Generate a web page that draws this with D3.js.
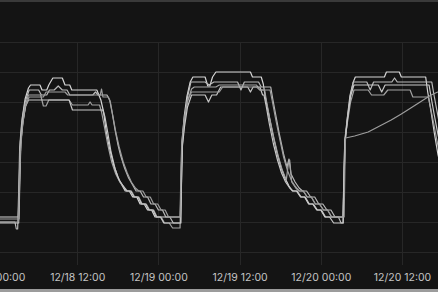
<!DOCTYPE html>
<meta charset="utf-8">
<style>
body { margin: 0; background: #141414; }
svg { display: block; }
.grid line { stroke: #272727; stroke-width: 1; shape-rendering: crispEdges; }
.grid path { display: none; }
.axis path, .axis line { display: none; }
.axis text { fill: #c4c4c4; font-family: Inter, sans-serif; font-size: 10.5px; }
.line { fill: none; stroke-width: 1.2; stroke-linejoin: round; }
</style>
<body>
<script src="https://cdn.jsdelivr.net/npm/d3@7"></script>
<script>

// readings: [hours since 12/18 00:00, temperature]
var sensor1 = [[0,15.5],[3.3,15.5],[3.45,19.5],[3.6,23.0],[3.9,25.5],[4.3,27.3],[4.8,28.4],[5.1,28.7],
  [6.5,28.7],[6.8,28.2],[7.5,28.2],[7.8,28.7],[8.4,29.4],[9.8,29.4],[10.2,28.7],[10.9,28.7],[11.2,28.2],[14.9,28.2],[15.2,27.7],
  [15.5,27.2],[15.9,26.0],[16.3,24.0],[16.8,22.3],[17.4,20.7],[18.0,19.5],[18.6,18.7],[19.1,18.1],[19.7,18.1],[20.2,17.5],[20.8,17.5],[21.3,16.8],[21.9,16.8],[22.4,16.2],[23.0,16.2],[23.5,15.5],[27.25,15.5],
  [27.35,19.0],[27.5,23.0],[27.8,25.5],[28.2,27.5],[28.7,29.0],[29.1,29.5],
  [30.9,29.5],[31.3,28.6],[31.6,28.6],[32.0,29.5],[32.5,30.0],[37.6,30.0],[37.9,29.5],[39.2,29.5],[39.5,28.8],
  [39.8,27.5],[40.3,25.8],[40.9,23.8],[41.5,22.0],[42.1,20.5],[42.7,19.4],[43.3,18.6],[43.8,18.1],[44.4,18.1],[45.0,17.5],[45.6,17.5],[46.2,16.8],[46.8,16.8],[47.4,16.2],[48.0,16.2],[48.6,15.5],[51.3,15.5],
  [51.4,19.5],[51.55,23.2],[51.9,25.3],[52.3,27.6],[52.8,29.0],[53.1,29.5],
  [57.4,29.5],[57.7,30.0],[59.6,30.0],[59.9,29.5],[63.5,29.5],
  [63.8,28.0],[64.3,26.0],[64.8,23.8],[65.3,21.8],[65.8,20.3]];

var sensor2 = [[0,15.0],[2.8,15.0],[3.0,14.3],[3.2,14.3],[3.35,18.0],[3.5,22.5],[3.8,25.0],[4.3,27.0],[4.9,28.2],
  [6.3,28.2],[6.7,27.7],[7.5,27.7],[7.9,28.2],[8.6,28.2],[9.2,28.6],[9.8,28.2],[10.5,28.2],[10.9,27.7],[14.3,27.7],[14.7,28.0],[15.1,27.7],[16.4,27.7],
  [16.8,27.2],[17.2,25.8],[17.6,24.2],[18.0,22.8],[18.4,21.7],[19.0,20.4],[19.6,19.4],[20.2,18.7],[20.7,18.1],[21.3,18.1],[21.8,17.5],[22.4,17.5],[22.9,16.8],[23.5,16.8],[24.0,16.2],[24.6,16.2],[25.1,15.5],[25.7,15.5],[26.2,14.9],[27.3,14.9],
  [27.4,18.5],[27.55,22.8],[27.9,25.3],[28.3,27.5],[28.8,29.0],
  [30.9,29.0],[31.5,28.7],[32.2,29.0],[35.7,29.0],[36.2,28.2],[36.7,29.0],[38.8,29.0],[39.2,28.5],[40.6,28.5],
  [40.9,27.3],[41.4,25.5],[41.9,23.7],[42.5,21.8],[43.0,20.5],[43.3,21.3],[43.6,19.8],[44.2,19.0],[44.8,18.4],[45.3,18.1],[45.9,18.1],[46.5,17.5],[47.1,17.5],[47.7,16.8],[48.3,16.8],[48.9,16.2],[49.5,16.2],[50.1,15.5],[50.6,15.5],[51.0,14.9],[51.3,14.9],
  [51.4,18.5],[51.6,23.0],[51.95,25.5],[52.4,27.7],[52.8,29.0],
  [54.8,29.0],[55.3,28.2],[55.8,29.0],[58.5,29.0],[58.9,29.4],[59.3,29.0],[64.4,29.0],
  [64.7,27.8],[65.2,26.0],[65.7,24.2]];

var sensor3 = [[0,15.3],[3.4,15.3],[3.55,20.0],[3.7,23.2],[4.0,25.0],[4.4,26.8],[4.8,27.7],
  [6.6,27.7],[7.0,26.6],[7.4,26.6],[7.8,27.2],[10.8,27.2],[11.3,26.7],[13.6,26.7],[13.9,27.0],[14.2,26.7],[15.3,26.7],
  [15.6,26.0],[16.0,24.6],[16.5,22.8],[17.1,21.0],[17.7,19.8],[18.3,19.0],[18.9,18.5],[19.4,18.1],[20.0,18.1],[20.5,17.5],[21.1,17.5],[21.6,16.8],[22.2,16.8],[22.7,16.2],[23.3,16.2],[23.8,15.5],[24.4,15.5],[24.9,14.9],[25.6,14.9],[26.1,14.4],[27.2,14.4],
  [27.3,18.0],[27.45,22.5],[27.8,25.0],[28.3,27.0],[28.9,28.3],[29.3,28.5],
  [32.5,28.5],[33.0,28.7],[38.5,28.7],[39.0,28.2],[39.7,28.2],
  [40.0,27.0],[40.5,25.2],[41.1,23.3],[41.7,21.6],[42.3,20.2],[42.9,19.2],[43.2,20.8],[43.4,21.2],[43.7,19.0],[44.3,18.4],[44.8,18.1],[45.4,18.1],[46.0,17.5],[46.6,17.5],[47.2,16.8],[47.8,16.8],[48.4,16.2],[49.0,16.2],[49.6,15.5],[51.3,15.5],
  [51.4,19.0],[51.55,23.0],[51.9,24.8],[52.4,27.0],[52.9,28.2],
  [55.0,28.2],[55.5,27.7],[57.3,27.7],[57.9,28.2],[61.2,28.2],[61.6,27.5],[63.9,27.5],
  [64.2,26.5],[64.7,24.8],[65.2,23.0],[65.7,21.5]];

var sensor4 = [[0,14.9],[3.35,14.9],[3.5,19.0],[3.65,22.8],[3.95,25.0],[4.4,26.6],[4.8,27.2],
  [10.8,27.2],[11.3,26.2],[15.8,26.2],
  [16.1,25.5],[16.5,24.0],[17.0,22.0],[17.6,20.3],[18.2,19.2],[18.8,18.6],[19.3,18.1],[19.9,18.1],[20.4,17.5],[21.0,17.5],[21.5,16.8],[22.1,16.8],[22.6,16.2],[23.2,16.2],[23.7,15.5],[24.3,15.5],[24.8,14.9],[27.3,14.9],
  [27.4,18.8],[27.55,22.6],[27.85,24.5],[28.3,26.5],[28.9,27.7],
  [30.9,27.7],[31.4,27.0],[31.9,27.7],[32.6,27.7],[33.2,28.5],[37.2,28.5],[37.6,28.0],[38.0,28.5],[39.0,28.5],[39.4,27.7],[39.6,27.7],
  [39.9,26.7],[40.4,24.8],[41.0,22.8],[41.6,21.2],[42.2,19.9],[42.8,19.0],[43.4,18.4],[43.9,18.1],[44.5,18.1],[45.1,17.5],[45.7,17.5],[46.3,16.8],[46.9,16.8],[47.5,16.2],[48.1,16.2],[48.7,15.5],[49.3,15.5],[49.9,14.9],[51.3,14.9],
  [51.4,18.8],[51.6,23.2],[51.95,25.3],[52.4,27.6],[52.9,28.7],
  [56.5,28.7],[57.0,28.0],[57.5,28.7],[64.0,28.7],
  [64.3,27.5],[64.8,25.6],[65.3,23.8],[65.8,22.2]];

var sensor5 = [[0,15.0],[3.3,15.0],[3.45,18.5],[3.6,22.0],[3.9,24.5],[4.3,26.5],[4.9,27.5],[7.0,27.5],[7.4,28.0],[10.2,28.0],[10.6,27.7],[15.4,27.7],[15.6,28.3],[15.8,27.5],[16.6,27.5],
  [16.9,27.0],[17.3,25.5],[17.7,24.0],[18.2,22.5],[18.8,21.0],[19.4,19.9],[20.0,19.0],[20.6,18.4],[21.1,18.1],[21.7,18.1],[22.2,17.5],[22.8,17.5],[23.3,16.8],[23.9,16.8],[24.4,16.2],[25.0,16.2],[25.5,15.5],[27.2,15.5],
  [27.3,19.0],[27.45,23.0],[27.8,25.2],[28.3,27.2],[28.9,28.0],
  [33.0,28.0],[33.5,28.5],[38.5,28.5],[39.0,28.2],[40.5,28.2],
  [40.8,27.2],[41.3,25.4],[41.9,23.4],[42.5,21.5],[43.1,20.1],[43.7,19.1],[44.3,18.5],[44.8,18.1],[45.4,18.1],[46.0,17.5],[46.6,17.5],[47.2,16.8],[47.8,16.8],[48.4,16.2],[49.0,16.2],[49.6,15.5],[51.45,15.5],
  [51.55,20.0],[51.65,23.4],[53.0,23.6],[55.0,24.0],[56.7,24.6],[58.4,25.2],[59.9,25.8],[61.3,26.4],[62.8,27.05],[64.3,27.7],[65.3,28.0],[65.8,28.2]];

var sensors = [sensor1, sensor2, sensor3, sensor4, sensor5];
var colors = ["#d6d6d6", "#b9b9b9", "#a3a3a3", "#c8c8c8", "#9d9d9d"];

// horizontal grid values
var yGrid = [12, 15, 18, 21, 24, 27, 30, 33];

var width = 438, height = 292;
var plotTop = 42, plotBottom = 265;

var start = new Date(2023, 11, 18, 0, 0);
function toDate(h) { return new Date(start.getTime() + h * 3600e3); }

var x = d3.scaleTime()
    .domain([start, new Date(2023, 11, 20, 12, 0)])
    .range([-4, 402]);
var y = d3.scaleLinear()
    .domain([10.7, 33])
    .range([plotBottom, plotTop]);

var svg = d3.select("body").append("svg")
    .attr("width", width)
    .attr("height", height);

svg.append("rect").attr("width", width).attr("height", height).attr("fill", "#141414");

// frame bits from the screenshot edges
svg.append("rect").attr("x", 0).attr("y", 0).attr("width", width).attr("height", 2).attr("fill", "#3a3a3a");
svg.append("rect").attr("x", 0).attr("y", 289).attr("width", width).attr("height", 3).attr("fill", "#9c9c9c");

svg.append("clipPath").attr("id", "plot")
  .append("rect").attr("x", 0).attr("y", plotTop - 2).attr("width", width).attr("height", plotBottom - plotTop + 2);

// horizontal grid
svg.append("g")
    .attr("class", "grid")
    .call(d3.axisLeft(y).tickValues(yGrid).tickSize(-width).tickFormat(""));

// vertical grid
svg.append("g")
    .attr("class", "grid")
    .attr("transform", "translate(0," + plotBottom + ")")
    .call(d3.axisBottom(x).ticks(d3.timeHour.every(12)).tickSize(-(plotBottom - plotTop)).tickFormat(""));

var line = d3.line()
    .x(function(d) { return x(toDate(d[0])); })
    .y(function(d) { return y(d[1]); });

svg.append("g").attr("clip-path", "url(#plot)")
  .selectAll("path")
    .data(sensors)
  .enter().append("path")
    .attr("class", "line")
    .style("stroke", function(d, i) { return colors[i]; })
    .attr("d", line);

// x axis labels
svg.append("g")
    .attr("class", "axis")
    .attr("transform", "translate(0," + plotBottom + ")")
    .call(d3.axisBottom(x).ticks(d3.timeHour.every(12)).tickSize(0).tickPadding(9)
      .tickFormat(d3.timeFormat("%m/%d %H:%M")));

</script>
</body>
